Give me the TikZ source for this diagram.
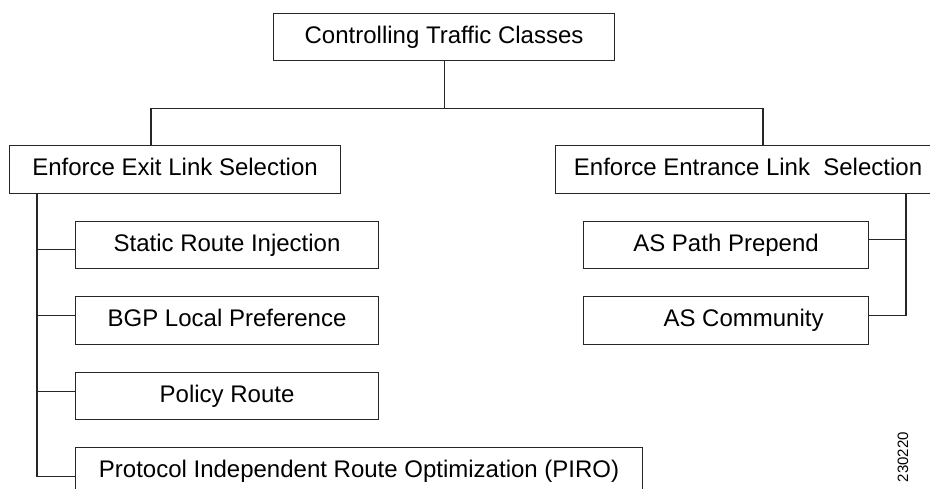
\documentclass[tikz,border=0pt]{standalone}
\usepackage{fontspec}
\setmainfont{Liberation Sans}
\begin{document}
\begin{tikzpicture}[x=1pt,y=-1pt,
  box/.style={draw=black!85, line width=1.1pt, rectangle, inner sep=0pt, anchor=north west,
    font=\fontsize{24}{28}\selectfont, text height=17.2pt, text depth=5pt},
  conn/.style={draw=black!85, line width=1.1pt}]
\useasboundingbox (0,0) rectangle (930,489);
\node[box, minimum width=341pt, minimum height=47pt] (top) at (273,13) {Controlling Traffic Classes};
\node[box, minimum width=331pt, minimum height=48pt] (exit) at (9,145) {Enforce Exit Link Selection\hspace{27pt}};
\node[box, minimum width=385pt, minimum height=48pt] (entr) at (555,145) {Enforce Entrance Link\ \ Selection};
\node[box, minimum width=303pt, minimum height=47pt] (static) at (75,221) {Static Route Injection};
\node[box, minimum width=303pt, minimum height=48pt] (bgp) at (75,296) {BGP Local Preference\hspace{19pt}};
\node[box, minimum width=303pt, minimum height=47pt] (policy) at (75,372) {Policy Route};
\node[box, minimum width=567pt, minimum height=47pt] (piro) at (75,447) {Protocol Independent Route Optimization (PIRO)};
\node[box, minimum width=285pt, minimum height=47pt] (aspath) at (583,221) {AS Path Prepend};
\node[box, minimum width=285pt, minimum height=48pt] (ascomm) at (583,296) {\hspace{35pt}AS Community};
\node[font=\fontsize{15}{18}\selectfont, rotate=90, inner sep=0pt] (fig) at (903,457) {230220};

\draw[conn] (top.south) -- ++(0,47) coordinate (bus);
\draw[conn] ([xshift=142pt]exit.north west) |- (bus) -| ([xshift=208pt]entr.north west);

\draw[conn] ([xshift=28pt]exit.south west) |- ([yshift=-5.5pt]piro.west);
\draw[conn] ([yshift=-4.5pt]static.west) -| ([xshift=28pt]exit.south west);
\draw[conn] ([yshift=5pt]bgp.west) -| ([xshift=28pt]exit.south west);
\draw[conn] ([yshift=4.5pt]policy.west) -| ([xshift=28pt]exit.south west);

\draw[conn] ([yshift=5pt]ascomm.east) -| ([xshift=351pt]entr.south west);
\draw[conn] ([yshift=5.5pt]aspath.east) -| ([xshift=351pt]entr.south west);
\end{tikzpicture}
\end{document}
